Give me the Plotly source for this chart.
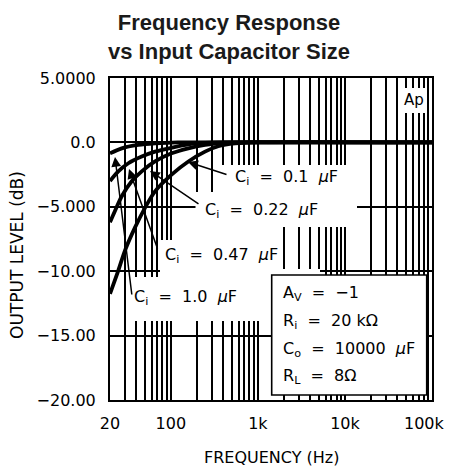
import math
import plotly.graph_objects as go

# ---------------- data ----------------
freq_c01 = [20, 24.9, 29.7, 38.8, 50.5, 65.8, 102, 159, 247, 350, 550, 1000, 100000]
db_c01 = [-11.75, -9.95, -8.4, -6.6, -5.08, -3.8, -2.5, -1.48, -0.72, -0.3, -0.08, 0, 0]

freq_c022 = [20, 22.8, 27.3, 35.5, 46.3, 65.8, 102, 159, 247, 400, 700, 100000]
db_c022 = [-6.2, -5.33, -4.18, -3.02, -2.25, -1.48, -0.85, -0.46, -0.2, -0.05, 0, 0]

freq_c047 = [20, 24.9, 32.5, 46.3, 65.8, 102, 159, 250, 400, 100000]
db_c047 = [-3.0, -2.25, -1.62, -1.1, -0.72, -0.41, -0.15, -0.04, 0, 0]

freq_c10 = [20, 27.3, 42.3, 65.8, 120, 100000]
db_c10 = [-0.85, -0.46, -0.2, -0.08, 0, 0]

x_tick_vals = [20, 100, 1000, 10000, 100000]
x_tick_text = ["20", "100", "1k", "10k", ""]
x_minor_vals = [30, 40, 50, 60, 70, 80, 90,
                200, 300, 400, 500, 600, 700, 800, 900,
                2000, 3000, 4000, 5000, 6000, 7000, 8000, 9000,
                20000, 30000, 40000, 50000, 60000, 70000, 80000, 90000]
y_tick_vals = [5, 0, -5, -10, -15, -20]
y_tick_text = ["5.0000", "0.0", "\u22125.000", "\u221210.00", "\u221215.00", "\u221220.00"]

# ---------------- layout helpers ----------------
# the page body has an 8px margin, so the figure is made 8px smaller
PAGE_W, PAGE_H, OFF = 453, 469, 8
ML, MR, MT, MB = 110, 21, 78, 69          # plot-area margins in page pixels
W, H = PAGE_W - OFF, PAGE_H - OFF
PW = PAGE_W - ML - MR
PH = PAGE_H - MT - MB


def px(x):
    return (x - ML) / PW


def py(y):
    return (PAGE_H - MB - y) / PH


FONT = "DejaVu Sans"
NB = "\u00a0"

fig = go.Figure()
for f, d in [(freq_c01, db_c01), (freq_c022, db_c022), (freq_c047, db_c047), (freq_c10, db_c10)]:
    fig.add_trace(go.Scatter(x=f, y=d, mode="lines",
                             line=dict(color="black", width=3.8, shape="spline", smoothing=0.8),
                             hoverinfo="skip", showlegend=False))

fig.update_layout(
    template="none",
    width=W, height=H,
    margin=dict(l=ML - OFF, r=MR, t=MT - OFF, b=MB, pad=0),
    paper_bgcolor="white", plot_bgcolor="white",
    showlegend=False,
    font=dict(family=FONT, color="black"),
    xaxis=dict(type="log", range=[math.log10(20), math.log10(100000)],
               tickmode="array", tickvals=x_tick_vals, ticktext=x_tick_text,
               showgrid=True, gridcolor="black", gridwidth=1.8,
               minor=dict(tickmode="array", tickvals=x_minor_vals, showgrid=True,
                          gridcolor="black", gridwidth=1.8, ticks=""),
               showline=True, mirror=True, linecolor="black", linewidth=2,
               ticks="outside", ticklen=8, tickcolor="rgba(0,0,0,0)",
               tickfont=dict(family=FONT, size=16, color="black"),
               zeroline=False, automargin=False, fixedrange=True),
    yaxis=dict(range=[-20, 5], tickmode="array", tickvals=y_tick_vals, ticktext=y_tick_text,
               showgrid=True, gridcolor="black", gridwidth=1.8,
               showline=True, mirror=True, linecolor="black", linewidth=2,
               ticks="outside", ticklen=9, tickcolor="rgba(0,0,0,0)",
               tickfont=dict(family=FONT, size=16, color="black"),
               zeroline=False, automargin=False, fixedrange=True),
)

# white masks where the reference's gridlines are interrupted by labels
masks = [
    (404, 88, 425, 113),
    (218, 165, 350, 192),
    (195.5, 192, 357, 227),
    (172, 227, 283, 277),
    (160, 240, 172, 277),
    (283, 269, 320, 276),
    (128, 277, 262, 321),
]
for x0, y0, x1, y1 in masks:
    fig.add_shape(type="rect", xref="paper", yref="paper",
                  x0=px(x0), x1=px(x1), y0=py(y1), y1=py(y0),
                  fillcolor="white", line=dict(width=0), layer="above")

# parameter box
fig.add_shape(type="rect", xref="paper", yref="paper",
              x0=px(271.7), x1=px(426.7), y0=py(395), y1=py(275),
              fillcolor="white", line=dict(color="black", width=1.6), layer="above")

anns = []


def text(x, y, s, size=16, xanchor="left", family=FONT, angle=0, color="black", yanchor="middle"):
    anns.append(dict(x=px(x), y=py(y), xref="paper", yref="paper", text=s,
                     showarrow=False, xanchor=xanchor, yanchor=yanchor,
                     textangle=angle, font=dict(family=family, size=size, color=color)))


def arrow(tip, tail):
    anns.append(dict(x=px(tip[0]), y=py(tip[1]), xref="paper", yref="paper", text="",
                     showarrow=True, ax=tail[0] - tip[0], ay=tail[1] - tip[1],
                     arrowhead=2, arrowsize=1.3, arrowwidth=1.5, arrowcolor="black",
                     standoff=0, startstandoff=0))


sp2 = NB * 2
text(233, 177, "C<sub>i</sub>" + sp2 + "=" + sp2 + "0.1" + sp2 + "<i>\u00b5</i>F")
text(203, 210, "C<sub>i</sub>" + sp2 + "=" + sp2 + "0.22" + sp2 + "<i>\u00b5</i>F")
text(163, 255, "C<sub>i</sub>" + sp2 + "=" + sp2 + "0.47" + sp2 + "<i>\u00b5</i>F")
text(132, 297, "C<sub>i</sub>" + sp2 + "=" + sp2 + "1.0" + sp2 + "<i>\u00b5</i>F")

text(281, 293, "A<sub>V</sub>" + sp2 + "=" + sp2 + "\u22121")
text(281, 321, "R<sub>i</sub>" + sp2 + "=" + sp2 + "20" + NB + "k\u03a9")
text(281, 349, "C<sub>o</sub>" + sp2 + "=" + sp2 + "10000" + sp2 + "<i>\u00b5</i>F")
text(281, 376, "R<sub>L</sub>" + sp2 + "=" + sp2 + "8\u03a9")

text(414, 100, "Ap", size=15, xanchor="center")

arrow((188, 162), (228, 175))
arrow((150, 171), (200, 205))
arrow((129, 169), (158, 250))
arrow((115, 157), (132, 296))

text(424, 423, "100k", size=16, xanchor="center")
text(271, 457, "FREQUENCY" + NB + "(Hz)", size=16, xanchor="center")
text(17, 255, "OUTPUT" + NB + "LEVEL" + NB + "(dB)", size=17, xanchor="center", angle=-90)
text(229, 8, "<b>Frequency Response</b><br><b>vs Input Capacitor Size</b>",
     size=22, xanchor="center", family="Liberation Sans", color="#1a1a1a", yanchor="top")

fig.update_layout(annotations=anns)
fig.write_html("out.html")
